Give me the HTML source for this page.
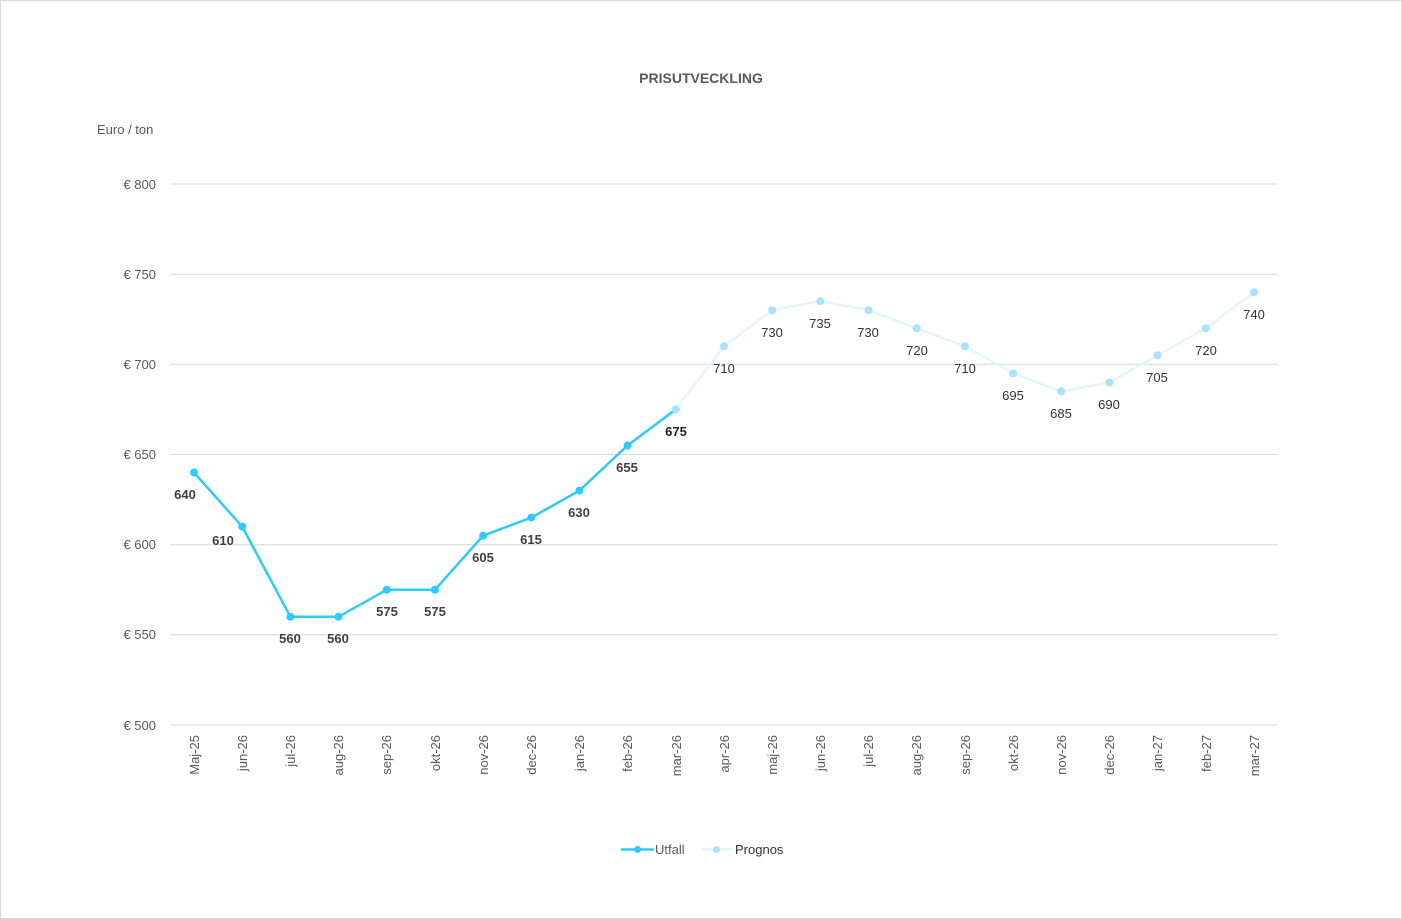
<!DOCTYPE html>
<html><head><meta charset="utf-8"><style>
body{margin:0;background:#fff}
svg{display:block;font-family:"Liberation Sans",sans-serif}
</style></head><body>
<svg width="1402" height="919" xmlns="http://www.w3.org/2000/svg">
<rect x="0.5" y="0.5" width="1401" height="918" fill="#fff" stroke="#d9d9d9"/>
<text x="701" y="83" text-anchor="middle" font-size="14" font-weight="bold" fill="#595959">PRISUTVECKLING</text>
<text x="97" y="134" font-size="13" fill="#595959">Euro / ton</text>
<g stroke="#d9d9d9" stroke-width="1">
<line x1="170" x2="1278" y1="184" y2="184"/><line x1="170" x2="1278" y1="274.2" y2="274.2"/>
<line x1="170" x2="1278" y1="364.3" y2="364.3"/><line x1="170" x2="1278" y1="454.5" y2="454.5"/>
<line x1="170" x2="1278" y1="544.7" y2="544.7"/><line x1="170" x2="1278" y1="634.8" y2="634.8"/>
<line x1="170" x2="1278" y1="725" y2="725"/>
</g>
<g font-size="13" fill="#595959" text-anchor="end">
<text x="156" y="189">€ 800</text><text x="156" y="279">€ 750</text><text x="156" y="369">€ 700</text>
<text x="156" y="459">€ 650</text><text x="156" y="549">€ 600</text><text x="156" y="639">€ 550</text><text x="156" y="730">€ 500</text>
</g>
<g font-size="13" fill="#595959" text-anchor="end">
<text transform="translate(199,735) rotate(-90)">Maj-25</text>
<text transform="translate(247,735) rotate(-90)">jun-26</text>
<text transform="translate(295,735) rotate(-90)">jul-26</text>
<text transform="translate(343,735) rotate(-90)">aug-26</text>
<text transform="translate(391,735) rotate(-90)">sep-26</text>
<text transform="translate(440,735) rotate(-90)">okt-26</text>
<text transform="translate(488,735) rotate(-90)">nov-26</text>
<text transform="translate(536,735) rotate(-90)">dec-26</text>
<text transform="translate(584,735) rotate(-90)">jan-26</text>
<text transform="translate(632,735) rotate(-90)">feb-26</text>
<text transform="translate(681,735) rotate(-90)">mar-26</text>
<text transform="translate(729,735) rotate(-90)">apr-26</text>
<text transform="translate(777,735) rotate(-90)">maj-26</text>
<text transform="translate(825,735) rotate(-90)">jun-26</text>
<text transform="translate(873,735) rotate(-90)">jul-26</text>
<text transform="translate(921,735) rotate(-90)">aug-26</text>
<text transform="translate(970,735) rotate(-90)">sep-26</text>
<text transform="translate(1018,735) rotate(-90)">okt-26</text>
<text transform="translate(1066,735) rotate(-90)">nov-26</text>
<text transform="translate(1114,735) rotate(-90)">dec-26</text>
<text transform="translate(1162,735) rotate(-90)">jan-27</text>
<text transform="translate(1211,735) rotate(-90)">feb-27</text>
<text transform="translate(1259,735) rotate(-90)">mar-27</text>
</g>
<polyline fill="none" stroke="#e4f6fd" stroke-width="2.5" points="675.8,409.4 724,346.3 772.2,310.2 820.3,301.2 868.5,310.2 916.7,328.3 964.9,346.3 1013.1,373.4 1061.2,391.4 1109.4,382.4 1157.6,355.3 1205.8,328.3 1254,292.2"/>
<g fill="#a8e2fb">
<circle cx="675.8" cy="409.4" r="4"/><circle cx="724" cy="346.3" r="4"/><circle cx="772.2" cy="310.2" r="4"/><circle cx="820.3" cy="301.2" r="4"/><circle cx="868.5" cy="310.2" r="4"/><circle cx="916.7" cy="328.3" r="4"/><circle cx="964.9" cy="346.3" r="4"/><circle cx="1013.1" cy="373.4" r="4"/><circle cx="1061.2" cy="391.4" r="4"/><circle cx="1109.4" cy="382.4" r="4"/><circle cx="1157.6" cy="355.3" r="4"/><circle cx="1205.8" cy="328.3" r="4"/><circle cx="1254" cy="292.2" r="4"/>
</g>
<polyline fill="none" stroke="#2ecbf8" stroke-width="2.5" points="194,472.5 242.2,526.6 290.4,616.8 338.5,616.8 386.7,589.8 434.9,589.8 483.1,535.7 531.3,517.6 579.4,490.6 627.6,445.5 675.8,409.4"/>
<g fill="#2ecbf8">
<circle cx="194" cy="472.5" r="4"/><circle cx="242.2" cy="526.6" r="4"/><circle cx="290.4" cy="616.8" r="4"/><circle cx="338.5" cy="616.8" r="4"/><circle cx="386.7" cy="589.8" r="4"/><circle cx="434.9" cy="589.8" r="4"/><circle cx="483.1" cy="535.7" r="4"/><circle cx="531.3" cy="517.6" r="4"/><circle cx="579.4" cy="490.6" r="4"/><circle cx="627.6" cy="445.5" r="4"/>
</g>
<circle cx="675.8" cy="409.4" r="4" fill="#a8e2fb"/>
<g font-size="13" font-weight="bold" fill="#404040" text-anchor="middle">
<text x="185" y="499">640</text><text x="223" y="545">610</text><text x="290" y="643">560</text><text x="338" y="643">560</text>
<text x="387" y="616">575</text><text x="435" y="616">575</text><text x="483" y="562">605</text><text x="531" y="544">615</text>
<text x="579" y="517">630</text><text x="627" y="472">655</text><text x="676" y="436" fill="#222">675</text>
</g>
<g font-size="13" fill="#333" text-anchor="middle">
<text x="724" y="373">710</text><text x="772" y="337">730</text><text x="820" y="328">735</text><text x="868" y="337">730</text>
<text x="917" y="355">720</text><text x="965" y="373">710</text><text x="1013" y="400">695</text><text x="1061" y="418">685</text>
<text x="1109" y="409">690</text><text x="1157" y="382">705</text><text x="1206" y="355">720</text><text x="1254" y="319">740</text>
</g>
<line x1="621" x2="654" y1="849.5" y2="849.5" stroke="#2ecbf8" stroke-width="2.5"/>
<circle cx="637.5" cy="849.5" r="3.5" fill="#2ecbf8"/>
<text x="655" y="854" font-size="13" fill="#595959">Utfall</text>
<line x1="701" x2="733" y1="849.5" y2="849.5" stroke="#e4f6fd" stroke-width="2.5"/>
<circle cx="716.5" cy="849.5" r="3.5" fill="#a8e2fb"/>
<text x="735" y="854" font-size="13" fill="#333">Prognos</text>
</svg>
</body></html>
